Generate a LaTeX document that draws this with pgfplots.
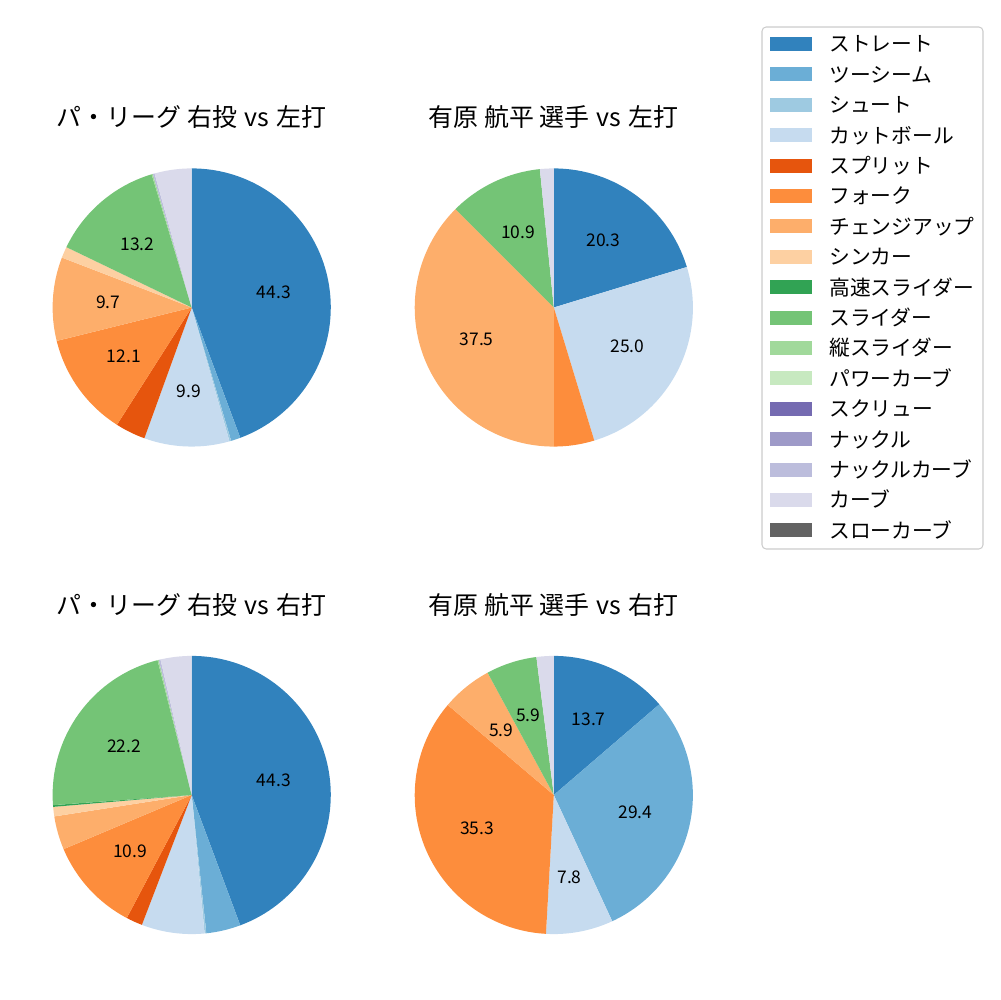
\documentclass[border=0pt]{standalone}
\usepackage{fontspec}
\setmainfont{Noto Sans CJK JP}
\usepackage{pgfplots}
\usepackage{pgfplotstable}
\pgfplotsset{compat=1.18}

% tab20c
\definecolor{c0}{HTML}{3182BD}
\definecolor{c1}{HTML}{6BAED6}
\definecolor{c2}{HTML}{9ECAE1}
\definecolor{c3}{HTML}{C6DBEF}
\definecolor{c4}{HTML}{E6550D}
\definecolor{c5}{HTML}{FD8D3C}
\definecolor{c6}{HTML}{FDAE6B}
\definecolor{c7}{HTML}{FDD0A2}
\definecolor{c8}{HTML}{31A354}
\definecolor{c9}{HTML}{74C476}
\definecolor{c10}{HTML}{A1D99B}
\definecolor{c11}{HTML}{C7E9C0}
\definecolor{c12}{HTML}{756BB1}
\definecolor{c13}{HTML}{9E9AC8}
\definecolor{c14}{HTML}{BCBDDC}
\definecolor{c15}{HTML}{DADAEB}
\definecolor{c16}{HTML}{636363}

% share (%), colour index, label shown
\pgfplotstableread{
val col lab
44.3 0 1
1.1 1 0
0.2 2 0
9.9 3 1
3.5 4 0
12.1 5 1
9.7 6 1
1.3 7 0
13.2 9 1
0.15 10 0
0.2 14 0
4.3 15 0
}\pieLL

\pgfplotstableread{
val col lab
20.3 0 1
25.0 3 1
4.7 5 0
37.5 6 1
10.9 9 1
1.6 15 0
}\pieAL

\pgfplotstableread{
val col lab
44.3 0 1
4.0 1 0
0.2 2 0
7.3 3 0
1.9 4 0
10.9 5 1
3.9 6 0
1.1 7 0
0.2 8 0
22.2 9 1
0.15 10 0
0.2 14 0
3.6 15 0
}\pieLR

\pgfplotstableread{
val col lab
13.7 0 1
29.4 1 1
7.8 3 1
35.3 5 1
5.9 6 1
5.9 9 1
2.0 15 0
}\pieAR

\newcommand\pieR{1.39in}
\newcommand\pielabR{0.834in}
\newcommand\vsgap{\hspace{1.2pt}}

% #1 table, #2 cx, #3 cy  (clockwise from the top)
\newcommand\drawpie[3]{%
  \pgfplotstablegetrowsof{#1}%
  \pgfmathtruncatemacro\pielast{\pgfplotsretval-1}%
  \gdef\pietotal{0}%
  \foreach \i in {0,...,\pielast}{%
    \pgfplotstablegetelem{\i}{val}\of{#1}%
    \pgfmathsetmacro\pietmp{\pietotal+\pgfplotsretval}%
    \xdef\pietotal{\pietmp}}%
  \gdef\pieacc{90}%
  \foreach \i in {0,...,\pielast}{%
    \pgfplotstablegetelem{\i}{val}\of{#1}\let\pieval\pgfplotsretval
    \pgfplotstablegetelem{\i}{col}\of{#1}\let\piecol\pgfplotsretval
    \pgfplotstablegetelem{\i}{lab}\of{#1}\let\pielab\pgfplotsretval
    \pgfmathsetmacro\piesweep{360*\pieval/\pietotal}%
    \pgfmathsetmacro\pieend{\pieacc-\piesweep}%
    \pgfmathsetmacro\piemid{\pieacc-\piesweep/2}%
    \fill[c\piecol] (axis cs:#2,#3) -- ++(\pieacc:\pieR)
      arc[start angle=\pieacc, end angle=\pieend, radius=\pieR] -- cycle;
    \ifnum\pielab=1
      \node[font=\fontsize{12.6}{15}\selectfont, inner sep=0pt]
        at ([shift={(\piemid:\pielabR)}]axis cs:#2,#3) {\pieval};
    \fi
    \xdef\pieacc{\pieend}}%
}

\begin{document}
\begin{tikzpicture}
\begin{axis}[
  hide axis, scale only axis,
  x=0.01in, y=0.01in,
  xmin=0, xmax=1000, ymin=0, ymax=1000,
  clip=false]
\pgfplotsextra{
  \path (axis cs:0,0) rectangle (axis cs:1000,1000);
  \drawpie{\pieLL}{191.7}{692.5}
  \drawpie{\pieAL}{553.8}{692.5}
  \drawpie{\pieLR}{191.7}{205}
  \drawpie{\pieAR}{553.8}{205}
  \begin{scope}[every node/.style={font=\fontsize{18}{22}\selectfont, anchor=base, inner sep=0pt}]
    \node at (axis cs:191.5,873) {パ・リーグ 右投\vsgap{} vs\vsgap{} 左打};
    \node at (axis cs:553.5,873) {有原 航平 選手\vsgap{} vs\vsgap{} 左打};
    \node at (axis cs:191.5,385) {パ・リーグ 右投\vsgap{} vs\vsgap{} 右打};
    \node at (axis cs:553.5,385) {有原 航平 選手\vsgap{} vs\vsgap{} 右打};
  \end{scope}
  % legend
  \draw[draw=black!20, line width=0.75pt, fill=white, rounded corners=3pt]
    (axis cs:762,451) rectangle (axis cs:983,973);
  \foreach \name [count=\k from 0] in {ストレート,ツーシーム,シュート,カットボール,スプリット,フォーク,チェンジアップ,シンカー,高速スライダー,スライダー,縦スライダー,パワーカーブ,スクリュー,ナックル,ナックルカーブ,カーブ,スローカーブ}{
    \pgfmathsetmacro\ly{956-30.4*\k}
    \fill[c\k] (axis cs:770,\ly-7) rectangle (axis cs:812,\ly+7);
    \node[font=\fontsize{15}{18}\selectfont, anchor=base west, inner sep=0pt]
      at (axis cs:829,\ly-7.9) {\name};
  }
}
\end{axis}
\end{tikzpicture}
\end{document}
